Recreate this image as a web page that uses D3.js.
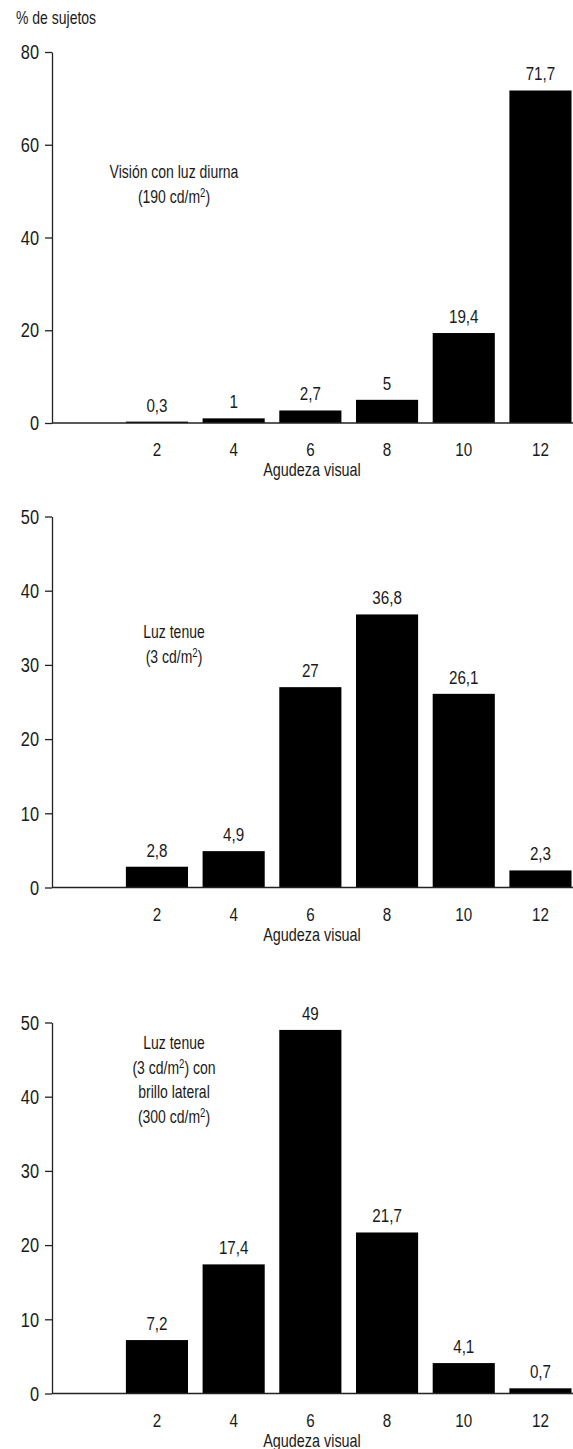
<!DOCTYPE html>
<html>
<head>
<meta charset="utf-8">
<script src="https://cdn.jsdelivr.net/npm/d3@7"></script>
<style>
  html, body { margin: 0; padding: 0; background: #fff; }
  svg { display: block; }
  text { font-family: "Liberation Sans", Arial, sans-serif; fill: #1a1a1a; }
</style>
</head>
<body>
<div id="chart"></div>
<script>
// ---- data ----
const categories = ["2", "4", "6", "8", "10", "12"];
const valuesDaylight = [0.3, 1, 2.7, 5, 19.4, 71.7];
const valuesDim = [2.8, 4.9, 27, 36.8, 26.1, 2.3];
const valuesDimGlare = [7.2, 17.4, 49, 21.7, 4.1, 0.7];
const ticksDaylight = [0, 20, 40, 60, 80];
const ticksDim = [0, 10, 20, 30, 40, 50];
const ticksDimGlare = [0, 10, 20, 30, 40, 50];
const yTitle = "% de sujetos";
const xTitle = "Agudeza visual";
const notesDaylight = [["Visión con luz diurna"], ["(190 cd/m", "2", ")"]];
const notesDim = [["Luz tenue"], ["(3 cd/m", "2", ")"]];
const notesDimGlare = [["Luz tenue"], ["(3 cd/m", "2", ") con"], ["brillo lateral"], ["(300 cd/m", "2", ")"]];

const W = 573, H = 1449;
const SX = 0.8; // horizontal condensing of the typeface
const svg = d3.select("#chart").append("svg").attr("width", W).attr("height", H);

// condense text: move position into a transform and squeeze horizontally
function condense(sel, sx) {
  sel.each(function () {
    const t = d3.select(this);
    const x = +t.attr("x") || 0, y = +t.attr("y") || 0;
    t.attr("x", 0).attr("y", 0)
     .attr("transform", `translate(${x},${y}) scale(${sx},1)`);
  });
}

svg.append("text").attr("x", 16).attr("y", 24).attr("font-size", 17.5).text(yTitle)
  .call(condense, SX);

const panels = [
  { values: valuesDaylight, ticks: ticksDaylight, max: 80, y0: 423, y1: 52, notes: notesDaylight, noteY: 178 },
  { values: valuesDim, ticks: ticksDim, max: 50, y0: 887.5, y1: 516.5, notes: notesDim, noteY: 638 },
  { values: valuesDimGlare, ticks: ticksDimGlare, max: 50, y0: 1393.5, y1: 1022.5, notes: notesDimGlare, noteY: 1049 }
];

const axisX = 52;
const x = d3.scaleBand().domain(categories).range([118.6, 578.8]).paddingInner(0.19).paddingOuter(0.095);
const fmt = v => String(v).replace(".", ",");

panels.forEach(p => {
  const y = d3.scaleLinear().domain([0, p.max]).range([p.y0, p.y1]);
  const g = svg.append("g");

  // bars
  g.selectAll("rect.bar").data(p.values).join("rect")
    .attr("class", "bar")
    .attr("x", (d, i) => x(categories[i]))
    .attr("width", x.bandwidth())
    .attr("y", d => y(d))
    .attr("height", d => y(0) - y(d))
    .attr("fill", "#000");

  // value labels
  g.selectAll("text.val").data(p.values).join("text")
    .attr("class", "val")
    .attr("x", (d, i) => x(categories[i]) + x.bandwidth() / 2)
    .attr("y", d => y(d) - 10)
    .attr("text-anchor", "middle")
    .attr("font-size", 19)
    .text(d => fmt(d))
    .call(condense, SX);

  // y axis
  const ya = g.append("g").attr("transform", `translate(${axisX},0)`)
    .call(d3.axisLeft(y).tickValues(p.ticks).tickSize(7).tickSizeOuter(0).tickPadding(6).tickFormat(d3.format("d")));
  ya.select(".domain").attr("stroke", "#222").attr("stroke-width", 1.3);
  ya.selectAll(".tick line").attr("stroke", "#222").attr("stroke-width", 1.3);
  ya.selectAll(".tick text").attr("font-size", 21).attr("font-family", null).attr("fill", "#1a1a1a")
    .call(condense, 0.78);

  // x axis baseline
  g.append("line").attr("x1", axisX).attr("x2", W).attr("y1", y(0)).attr("y2", y(0))
    .attr("stroke", "#222").attr("stroke-width", 1.3);

  // x tick labels
  const xa = g.append("g").attr("transform", `translate(0,${y(0)})`)
    .call(d3.axisBottom(x).tickSize(0).tickPadding(20));
  xa.select(".domain").remove();
  xa.selectAll(".tick text").attr("font-size", 19).attr("font-family", null).attr("fill", "#1a1a1a")
    .call(condense, SX);

  // x title
  g.append("text").attr("x", 312).attr("y", y(0) + 53).attr("text-anchor", "middle")
    .attr("font-size", 18).text(xTitle).call(condense, SX);

  // annotation
  p.notes.forEach((line, i) => {
    const t = g.append("text").attr("x", 174).attr("y", p.noteY + i * 24.5)
      .attr("text-anchor", "middle").attr("font-size", 17.5);
    t.append("tspan").text(line[0]);
    if (line.length > 1) {
      t.append("tspan").attr("font-size", 12).attr("dy", -6).text(line[1]);
      t.append("tspan").attr("dy", 6).text(line[2]);
    }
    t.call(condense, SX);
  });
});
</script>
</body>
</html>
